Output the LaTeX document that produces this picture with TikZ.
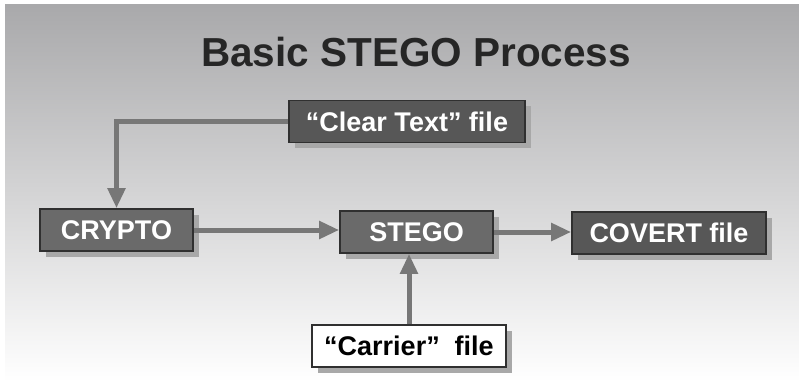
\documentclass[tikz,border=0pt]{standalone}
\usepackage{fontspec}
\setmainfont{Liberation Sans}
\usepackage{tikz}
\usetikzlibrary{arrows.meta,calc,positioning,shadows}
\definecolor{bgtop}{HTML}{A9A9AB}
\definecolor{bgmid}{HTML}{E6E6E6}
\definecolor{boxdark}{HTML}{575757}
\definecolor{boxmid}{HTML}{6A6A6A}
\definecolor{boxline}{HTML}{303030}
\definecolor{shadowgray}{HTML}{A8A8A8}
\definecolor{arrowgray}{HTML}{777777}
\tikzset{
    procbox/.style={draw=boxline,line width=1.6pt,fill=boxmid,text=white,
        font=\fontsize{27}{31}\selectfont\bfseries,minimum height=42pt,inner sep=0pt,
        drop shadow={shadow xshift=6pt,shadow yshift=-6pt,fill=shadowgray,opacity=1}},
    filebox/.style={procbox,fill=white,text=black},
    flowarrow/.style={draw=arrowgray,line width=5pt,-{Triangle[length=20pt,width=17pt]}},
    every node/.style={font=\small}
}
\begin{document}
\begin{tikzpicture}[x=1pt,y=-1pt]
  \useasboundingbox (0,0) rectangle (799,382);
  \fill[white] (0,0) rectangle (799,382);
  \shade[top color=bgtop,middle color=bgmid,bottom color=white] (5,5) rectangle (799,382);
  \node[font=\fontsize{40.5}{46}\selectfont\bfseries,text=black!85] (title) at (416,52) {Basic STEGO Process};
  \node[procbox,fill=boxdark,minimum width=236pt] (clear) at (407,121.5) {``Clear Text'' file};
  \node[procbox,minimum width=153pt] (crypto) at (116.5,230) {CRYPTO};
  \node[procbox,minimum width=153pt] (stego) at (416.5,232) {STEGO};
  \node[procbox,fill=boxdark,minimum width=194pt] (covert) at (669,233) {COVERT file};
  \node[filebox,minimum width=194pt] (carrier) at (409,346) {``Carrier''\ \ file};
  \draw[flowarrow] (clear.west) -| (crypto.north);
  \draw[flowarrow] (crypto.east) -- (crypto.east -| stego.west);
  \draw[flowarrow] (stego.east) -- (stego.east -| covert.west);
  \draw[flowarrow] (carrier.north) -- (carrier.north |- stego.south);
\end{tikzpicture}
\end{document}
